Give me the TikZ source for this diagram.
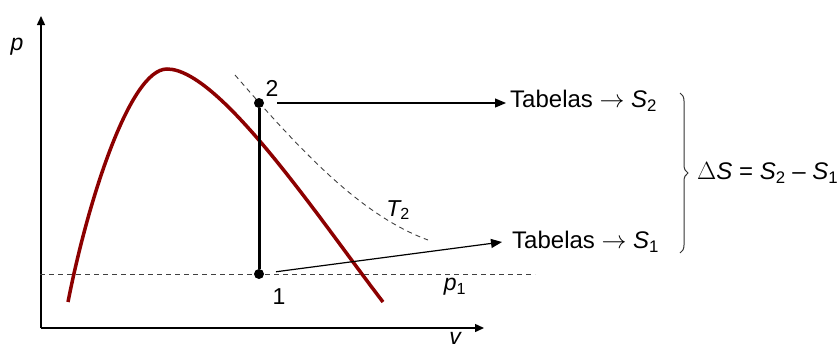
\documentclass[tikz,border=0pt]{standalone}
\usepackage{fontspec}
\setmainfont{Liberation Sans}
\usetikzlibrary{arrows.meta,decorations.pathreplacing,positioning}

\begin{document}
\begin{tikzpicture}[x=1pt,y=-1pt]
\tikzset{dot/.style={circle,fill,inner sep=0pt,minimum size=10pt},
  lbl/.style={font=\fontsize{23}{27}\selectfont,inner sep=1pt},
  tab/.style={font=\fontsize{24}{28}\selectfont,anchor=west,inner sep=4pt},
  dsh/.style={dash pattern=on 5pt off 4pt,line width=0.9pt,black!75}}
\useasboundingbox (0,0) rectangle (837,349);
% axes
\coordinate (O) at (41,328);
\coordinate (ytop) at (41,16);
\coordinate (xend) at (484,328);
\draw[line width=1.4pt,-{Triangle[length=9pt,width=8pt]}] (O) -- (ytop);
\draw[line width=1.4pt,-{Triangle[length=9pt,width=8pt]}] (O) -- (xend);
\node[lbl] (plab) at (17,47) {\itshape p};
\node[lbl] (vlab) at (455,338) {\itshape v};
% saturation dome
\draw[line width=3.5pt,red!55!black] (68,302) .. controls (88,200) and (130,69) .. (167,69)
  .. controls (220,69) and (320,220) .. (383,302);
% isobar and isotherm
\draw[dsh] (40,274) -- (535,274);
\node[lbl] (p1lab) at (455,287) {\itshape p\textsubscript{\upshape 1}};
\draw[dsh] (235,75) .. controls (300,150) and (360,215) .. (428,240);
\node[lbl] (T2lab) at (398,210) {\itshape T\textsubscript{\upshape 2}};
% states
\node[dot] (pt2) at (259,103) {};
\node[dot] (pt1) at (259,274) {};
\draw[line width=3pt] (pt1) -- (pt2);
\node[lbl] (n2) at (272,88) {2};
\node[lbl] (n1) at (279,297) {1};
% tables
\node[tab] (tab2) at (506,101) {Tabelas $\rightarrow$ \textit{S}\textsubscript{2}};
\node[tab,inner xsep=10pt] (tab1) at (502,242) {Tabelas $\rightarrow$ \textit{S}\textsubscript{1}};
\draw[line width=1.2pt,shorten <=13pt,-{Triangle[length=11pt,width=9pt]}] (pt2) -- (tab2.west |- pt2);
\draw[line width=1.2pt,shorten <=12pt,-{Triangle[length=11pt,width=9pt]}] (pt1) -- (tab1.west);
% result
\coordinate (btop) at (680,93);
\coordinate (bbot) at (680,253);
\draw[line width=1pt,black!80,decorate,decoration={brace,amplitude=8pt}] (btop) -- (bbot);
\node[tab,inner sep=0pt] (dS) at (697,173) {$\Delta$\textit{S} = \textit{S}\textsubscript{2} -- \textit{S}\textsubscript{1}};
\end{tikzpicture}
\end{document}
